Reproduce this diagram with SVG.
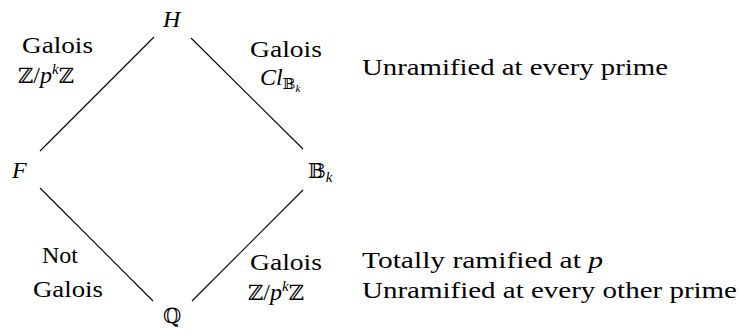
<svg xmlns="http://www.w3.org/2000/svg" width="740" height="335" viewBox="0 0 740 335">
<style>
text{font-family:'Liberation Serif','DejaVu Serif','Times New Roman',serif;font-size:24px;fill:#000}
.m{font-style:italic}
.bb{font-family:'DejaVu Serif','DejaVu Sans',serif;font-size:21px}
.sub{font-size:15px}
line{stroke:#000;stroke-width:1.1}
</style>
<rect width="740" height="335" fill="#fff"/>
<g id="connectors">
<line x1="154" y1="37" x2="40" y2="151"/>
<line x1="191" y1="38" x2="303" y2="149"/>
<line x1="40" y1="188" x2="153" y2="301"/>
<line x1="303" y1="190" x2="192" y2="301"/>
</g>
<g id="node-H"><text x="163" y="27" class="m">H</text></g>
<g id="node-F"><text x="12" y="178" class="m">F</text></g>
<g id="node-Bk"><text x="308" y="178"><tspan class="bb">𝔹</tspan><tspan class="m sub" dy="4">k</tspan></text></g>
<g id="node-Q"><text x="163" y="323" class="bb">ℚ</text></g>
<g id="label-HF">
<text x="22" y="53" textLength="71" lengthAdjust="spacingAndGlyphs">Galois</text>
<text x="18" y="83"><tspan class="bb">ℤ</tspan>/<tspan class="m">p</tspan><tspan class="m sub" dy="-9">k</tspan><tspan class="bb" dy="9">ℤ</tspan></text>
</g>
<g id="label-HB">
<text x="250" y="57" textLength="72" lengthAdjust="spacingAndGlyphs">Galois</text>
<text x="260" y="85"><tspan class="m">Cl</tspan><tspan class="bb sub" dy="4">𝔹</tspan><tspan class="m" style="font-size:11px" dy="3">k</tspan></text>
</g>
<g id="label-FQ">
<text x="60" y="263" text-anchor="middle">Not</text>
<text x="33" y="297" textLength="70" lengthAdjust="spacingAndGlyphs">Galois</text>
</g>
<g id="label-BQ">
<text x="250" y="270" textLength="72" lengthAdjust="spacingAndGlyphs">Galois</text>
<text x="248" y="300"><tspan class="bb">ℤ</tspan>/<tspan class="m">p</tspan><tspan class="m sub" dy="-9">k</tspan><tspan class="bb" dy="9">ℤ</tspan></text>
</g>
<g id="notes">
<text x="362" y="75" textLength="306" lengthAdjust="spacingAndGlyphs">Unramified at every prime</text>
<text x="362" y="268" textLength="241" lengthAdjust="spacingAndGlyphs">Totally ramified at <tspan class="m">p</tspan></text>
<text x="362" y="298" textLength="375" lengthAdjust="spacingAndGlyphs">Unramified at every other prime</text>
</g>
</svg>
